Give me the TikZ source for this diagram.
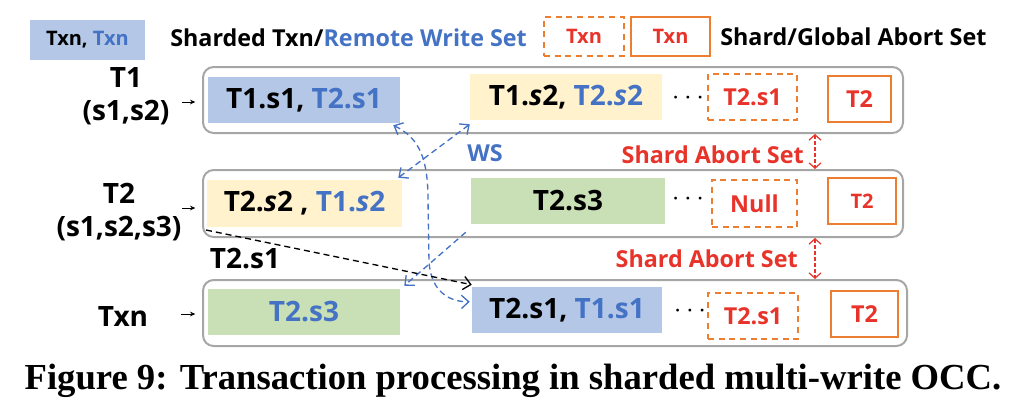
\documentclass[tikz,border=0pt]{standalone}
\usepackage{fontspec}
\setsansfont{Open Sans}
\newfontfamily\capfont{Liberation Serif}
\usetikzlibrary{arrows.meta}
\definecolor{bfill}{HTML}{B4C7E7}
\definecolor{btext}{HTML}{4472C4}
\definecolor{yfill}{HTML}{FFF2CC}
\definecolor{gfill}{HTML}{C9DFB5}
\definecolor{oline}{HTML}{ED7D31}
\definecolor{rtext}{HTML}{E8332A}
\definecolor{gline}{HTML}{A6A6A6}
% box from corners (x1,y1)-(x2,y2) in pixel units
\newcommand\bx[7]{\node[#1, minimum width={(#5-#3)*0.75pt}, minimum height={(#6-#4)*0.75pt}] (#2) at ({(#3+#5)/2},{(#4+#6)/2}) {#7};}
\begin{document}
\begin{tikzpicture}[x=0.75pt,y=-0.75pt,
  every node/.style={inner sep=0pt, font=\sffamily\bfseries},
  fsA/.style={font=\sffamily\bfseries\fontsize{21}{26}\selectfont},
  fsB/.style={font=\sffamily\bfseries\fontsize{17.5}{22}\selectfont},
  fsC/.style={font=\sffamily\bfseries\fontsize{15}{18}\selectfont},
  fsL/.style={font=\sffamily\bfseries\fontsize{21}{25}\selectfont},
  rowbox/.style={draw=gline, line width=1.5pt, rounded corners=8pt},
  bluebox/.style={fill=bfill, fsA},
  yelbox/.style={fill=yfill, fsA},
  grnbox/.style={fill=gfill, fsA},
  shardab/.style={draw=oline, line width=1.1pt, dash pattern=on 4.5pt off 3.5pt, text=rtext, fsB},
  globab/.style={draw=oline, line width=1.1pt, text=rtext, fsB},
  smallarr/.style={-{Stealth[length=4pt,width=3.5pt]}, line width=0.6pt},
  wsarrow/.style={draw=btext, line width=1pt, dash pattern=on 4.5pt off 3pt},
  barb/.tip={Straight Barb[length=5.5pt,width=10pt]},
  redarr/.style={draw=rtext, line width=0.9pt, dash pattern=on 2.5pt off 2pt, {Straight Barb[length=4pt,width=9pt]}-{Straight Barb[length=4pt,width=9pt]}},
  redlbl/.style={text=rtext, fsB},
  dots/.style={font=\sffamily\bfseries\fontsize{20}{22}\selectfont}
]
\useasboundingbox (0,0) rectangle (1030,412);

% legend
\bx{fill=bfill, fsC}{lgb}{30}{20}{145}{60}{Txn, \textcolor{btext}{Txn}}
\node[anchor=west, fsB] (lgt) at (170,38) {Sharded Txn/\textcolor{btext}{Remote Write Set}};
\bx{shardab, fsC}{lgs}{544}{17}{624}{56}{Txn}
\bx{globab, fsC}{lgg}{631}{17}{710}{56}{Txn}
\node[anchor=west, fsB] (lga) at (720,37) {Shard/Global Abort Set};

% rows
\bx{rowbox}{r1}{203}{67}{903}{133}{}
\bx{rowbox}{r2}{203}{170}{903}{237}{}
\bx{rowbox}{r3}{203}{280}{907}{346}{}

% row 1
\bx{bluebox}{b11}{208}{77}{400}{123}{T1.s1, \textcolor{btext}{T2.s1}}
\bx{yelbox}{b12}{470}{74}{662}{120}{T1.\textit{s}2, \textcolor{btext}{T2.\textit{s}2}}
\node[dots] (d1) at (688,98) {$\cdots$};
\bx{shardab}{s1}{708}{74}{797}{120}{T2.s1}
\bx{globab}{g1}{828}{76}{891}{122}{T2}

% row 2
\bx{yelbox}{b21}{207}{180}{402}{227}{T2.\textit{s}2 , \textcolor{btext}{T1.\textit{s}2}}
\bx{grnbox}{b22}{471}{178}{665}{224}{T2.s3}
\node[dots] (d2) at (688,199) {$\cdots$};
\bx{shardab}{s2}{712}{180}{797}{227}{Null}
\bx{globab, fsC}{g2}{828}{178}{896}{224}{T2}

% row 3
\bx{grnbox}{b31}{208}{289}{400}{335}{\textcolor{btext}{T2.s3}}
\bx{bluebox}{b32}{472}{287}{662}{333}{T2.s1, \textcolor{btext}{T1.s1}}
\node[dots] (d3) at (690,311) {$\cdots$};
\bx{shardab}{s3}{708}{293}{798}{339}{T2.s1}
\bx{globab}{g3}{831}{291}{898}{337}{T2}

% left labels
\node[fsL, align=center] (l1) at (126,96) {T1\\(s1,s2)};
\node[fsL, align=center] (l2) at (119,212) {T2\\(s1,s2,s3)};
\node[fsL] (l3) at (123,316) {Txn};
\coordinate (a1) at (182,102);
\coordinate (a2) at (182,208);
\coordinate (a3) at (181,314);
\draw[smallarr, shorten >=5pt] (a1) -- (a1 -| r1.west);
\draw[smallarr, shorten >=5pt] (a2) -- (a2 -| r2.west);
\draw[smallarr, shorten >=5pt] (a3) -- (a3 -| r3.west);

% write-set arrows
\draw[wsarrow, {barb}-{barb}] ([shift={(-7,2)}]b11.south east)
  .. controls (420,138) and (428,160) .. (428,200) -- (429,262)
  .. controls (431,292) and (450,302) .. ([shift={(-2,15)}]b32.north west);
\draw[wsarrow, {barb}-{barb}] ([shift={(0,4)}]b12.south west) -- ([shift={(-4,-2)}]b21.north east);
\draw[wsarrow, -{barb}] ([shift={(-5,8)}]b22.south west) -- ([shift={(4,-3)}]b31.north east);
\node[text=btext, fsB] (ws) at (485,153) {WS};

% T2.s1 migration
\draw[line width=1pt, dash pattern=on 4.5pt off 3pt, -{barb}] ([shift={(4,-8)}]r2.south west) -- ([shift={(0,-2)}]b32.north west);
\node[fsL] (t2s1) at (245,259) {T2.s1};

% shard abort set arrows
\coordinate (sa) at (815,0);
\draw[redarr] (r1.south -| sa) -- (r2.north -| sa);
\draw[redarr] (r2.south -| sa) -- (r3.north -| sa);
\node[redlbl, anchor=east] (sal1) at (804,155) {Shard Abort Set};
\node[redlbl, anchor=east] (sal2) at (798,259) {Shard Abort Set};

% caption
\node[font=\capfont\bfseries\fontsize{27.5}{30}\selectfont] (cap) at (513,381) {Figure 9: Transaction processing in sharded multi-write OCC.};
\end{tikzpicture}
\end{document}
